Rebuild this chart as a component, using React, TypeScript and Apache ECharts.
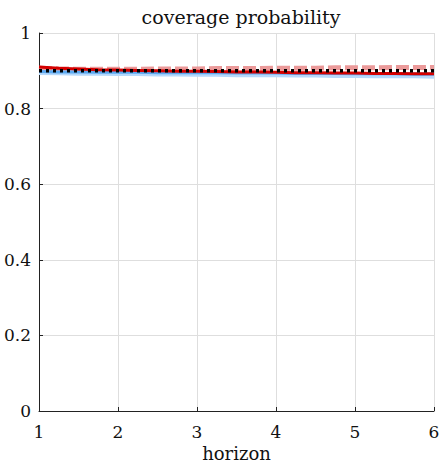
import React, { useEffect, useRef } from "react";
import * as echarts from "echarts";

const horizons = [1, 1.25, 1.5, 1.75, 2, 2.25, 2.5, 2.75, 3, 3.25, 3.5, 3.75, 4, 4.25, 4.5, 4.75, 5, 5.25, 5.5, 5.75, 6];
const nominal = [0.9, 0.9, 0.9, 0.9, 0.9, 0.9, 0.9, 0.9, 0.9, 0.9, 0.9, 0.9, 0.9, 0.9, 0.9, 0.9, 0.9, 0.9, 0.9, 0.9, 0.9];
const redDark = [0.91, 0.907, 0.905, 0.903, 0.902, 0.901, 0.9, 0.899, 0.899, 0.898, 0.897, 0.897, 0.896, 0.895, 0.895, 0.894, 0.894, 0.893, 0.893, 0.892, 0.892];
const redLight = [0.907, 0.905, 0.904, 0.904, 0.904, 0.904, 0.905, 0.905, 0.905, 0.906, 0.906, 0.906, 0.907, 0.907, 0.907, 0.908, 0.908, 0.908, 0.909, 0.909, 0.909];
const blueMid = [0.898, 0.897, 0.897, 0.896, 0.896, 0.896, 0.895, 0.895, 0.895, 0.895, 0.894, 0.894, 0.894, 0.893, 0.893, 0.893, 0.892, 0.892, 0.892, 0.891, 0.891];
const blueLight = [0.897, 0.896, 0.895, 0.895, 0.894, 0.894, 0.893, 0.893, 0.892, 0.892, 0.891, 0.891, 0.891, 0.89, 0.89, 0.889, 0.889, 0.888, 0.888, 0.888, 0.887];
const yTicks = [0, 0.2, 0.4, 0.6, 0.8, 1];

const FONT = "DejaVu Serif";

function pairs(v: number[]) {
  return horizons.map((x, i) => [x, v[i]]);
}

export default function App() {
  const ref = useRef<HTMLDivElement>(null);
  useEffect(() => {
    const chart = echarts.init(ref.current!, undefined, { renderer: "svg" });
    chart.setOption({
      animation: false,
      backgroundColor: "#ffffff",
      title: {
        text: "coverage probability",
        left: 236,
        textAlign: "center",
        top: 2,
        textStyle: { fontFamily: FONT, fontWeight: "normal", fontSize: 19, color: "#111" },
      },
      grid: { left: 39, right: 7, top: 33, bottom: 54, containLabel: false, outerBoundsMode: "none" },
      xAxis: {
        type: "value",
        min: 1,
        max: 6,
        interval: 1,
        name: "horizon",
        nameLocation: "middle",
        nameGap: 32,
        nameTextStyle: { fontFamily: FONT, fontSize: 18, color: "#111", verticalAlign: "top" },
        axisLine: { lineStyle: { color: "#222", width: 1 } },
        axisTick: { inside: true, length: 4, lineStyle: { color: "#222" } },
        axisLabel: { fontFamily: FONT, fontSize: 17, color: "#111", margin: 12 },
        splitLine: { show: true, lineStyle: { color: "#dedede", width: 1 } },
      },
      yAxis: {
        type: "value",
        min: 0,
        max: 1,
        interval: 0.2,
        axisLine: { show: true, lineStyle: { color: "#222", width: 1 } },
        axisTick: { show: true, inside: true, length: 4, lineStyle: { color: "#222" } },
        axisLabel: {
          fontFamily: FONT,
          fontSize: 17,
          color: "#111",
          margin: 8,
          formatter: (v: number) => (yTicks.includes(Number(v.toFixed(1))) ? String(Number(v.toFixed(1))) : ""),
        },
        splitLine: { show: true, lineStyle: { color: "#dedede", width: 1 } },
      },
      series: [
        {
          type: "line",
          data: pairs(blueLight),
          showSymbol: false,
          lineStyle: { color: "#b5d8fb", width: 6 },
          z: 1,
        },
        {
          type: "line",
          data: pairs(redLight),
          showSymbol: false,
          lineStyle: { color: "#eb9a9a", width: 5, type: [13, 4] },
          z: 2,
        },
        {
          type: "line",
          data: pairs(blueMid),
          showSymbol: false,
          lineStyle: { color: "#5aa9f2", width: 3 },
          z: 3,
        },
        {
          type: "line",
          data: pairs(redDark),
          showSymbol: false,
          lineStyle: { color: "#d40000", width: 3 },
          z: 4,
        },
        {
          type: "line",
          data: pairs(nominal),
          showSymbol: false,
          lineStyle: { color: "#000000", width: 3.5, type: [3, 4] },
          z: 5,
        },
      ],
    });
    return () => chart.dispose();
  }, []);
  return <div ref={ref} style={{ width: 441, height: 465, position: "absolute", left: 0, top: 0 }} />;
}
